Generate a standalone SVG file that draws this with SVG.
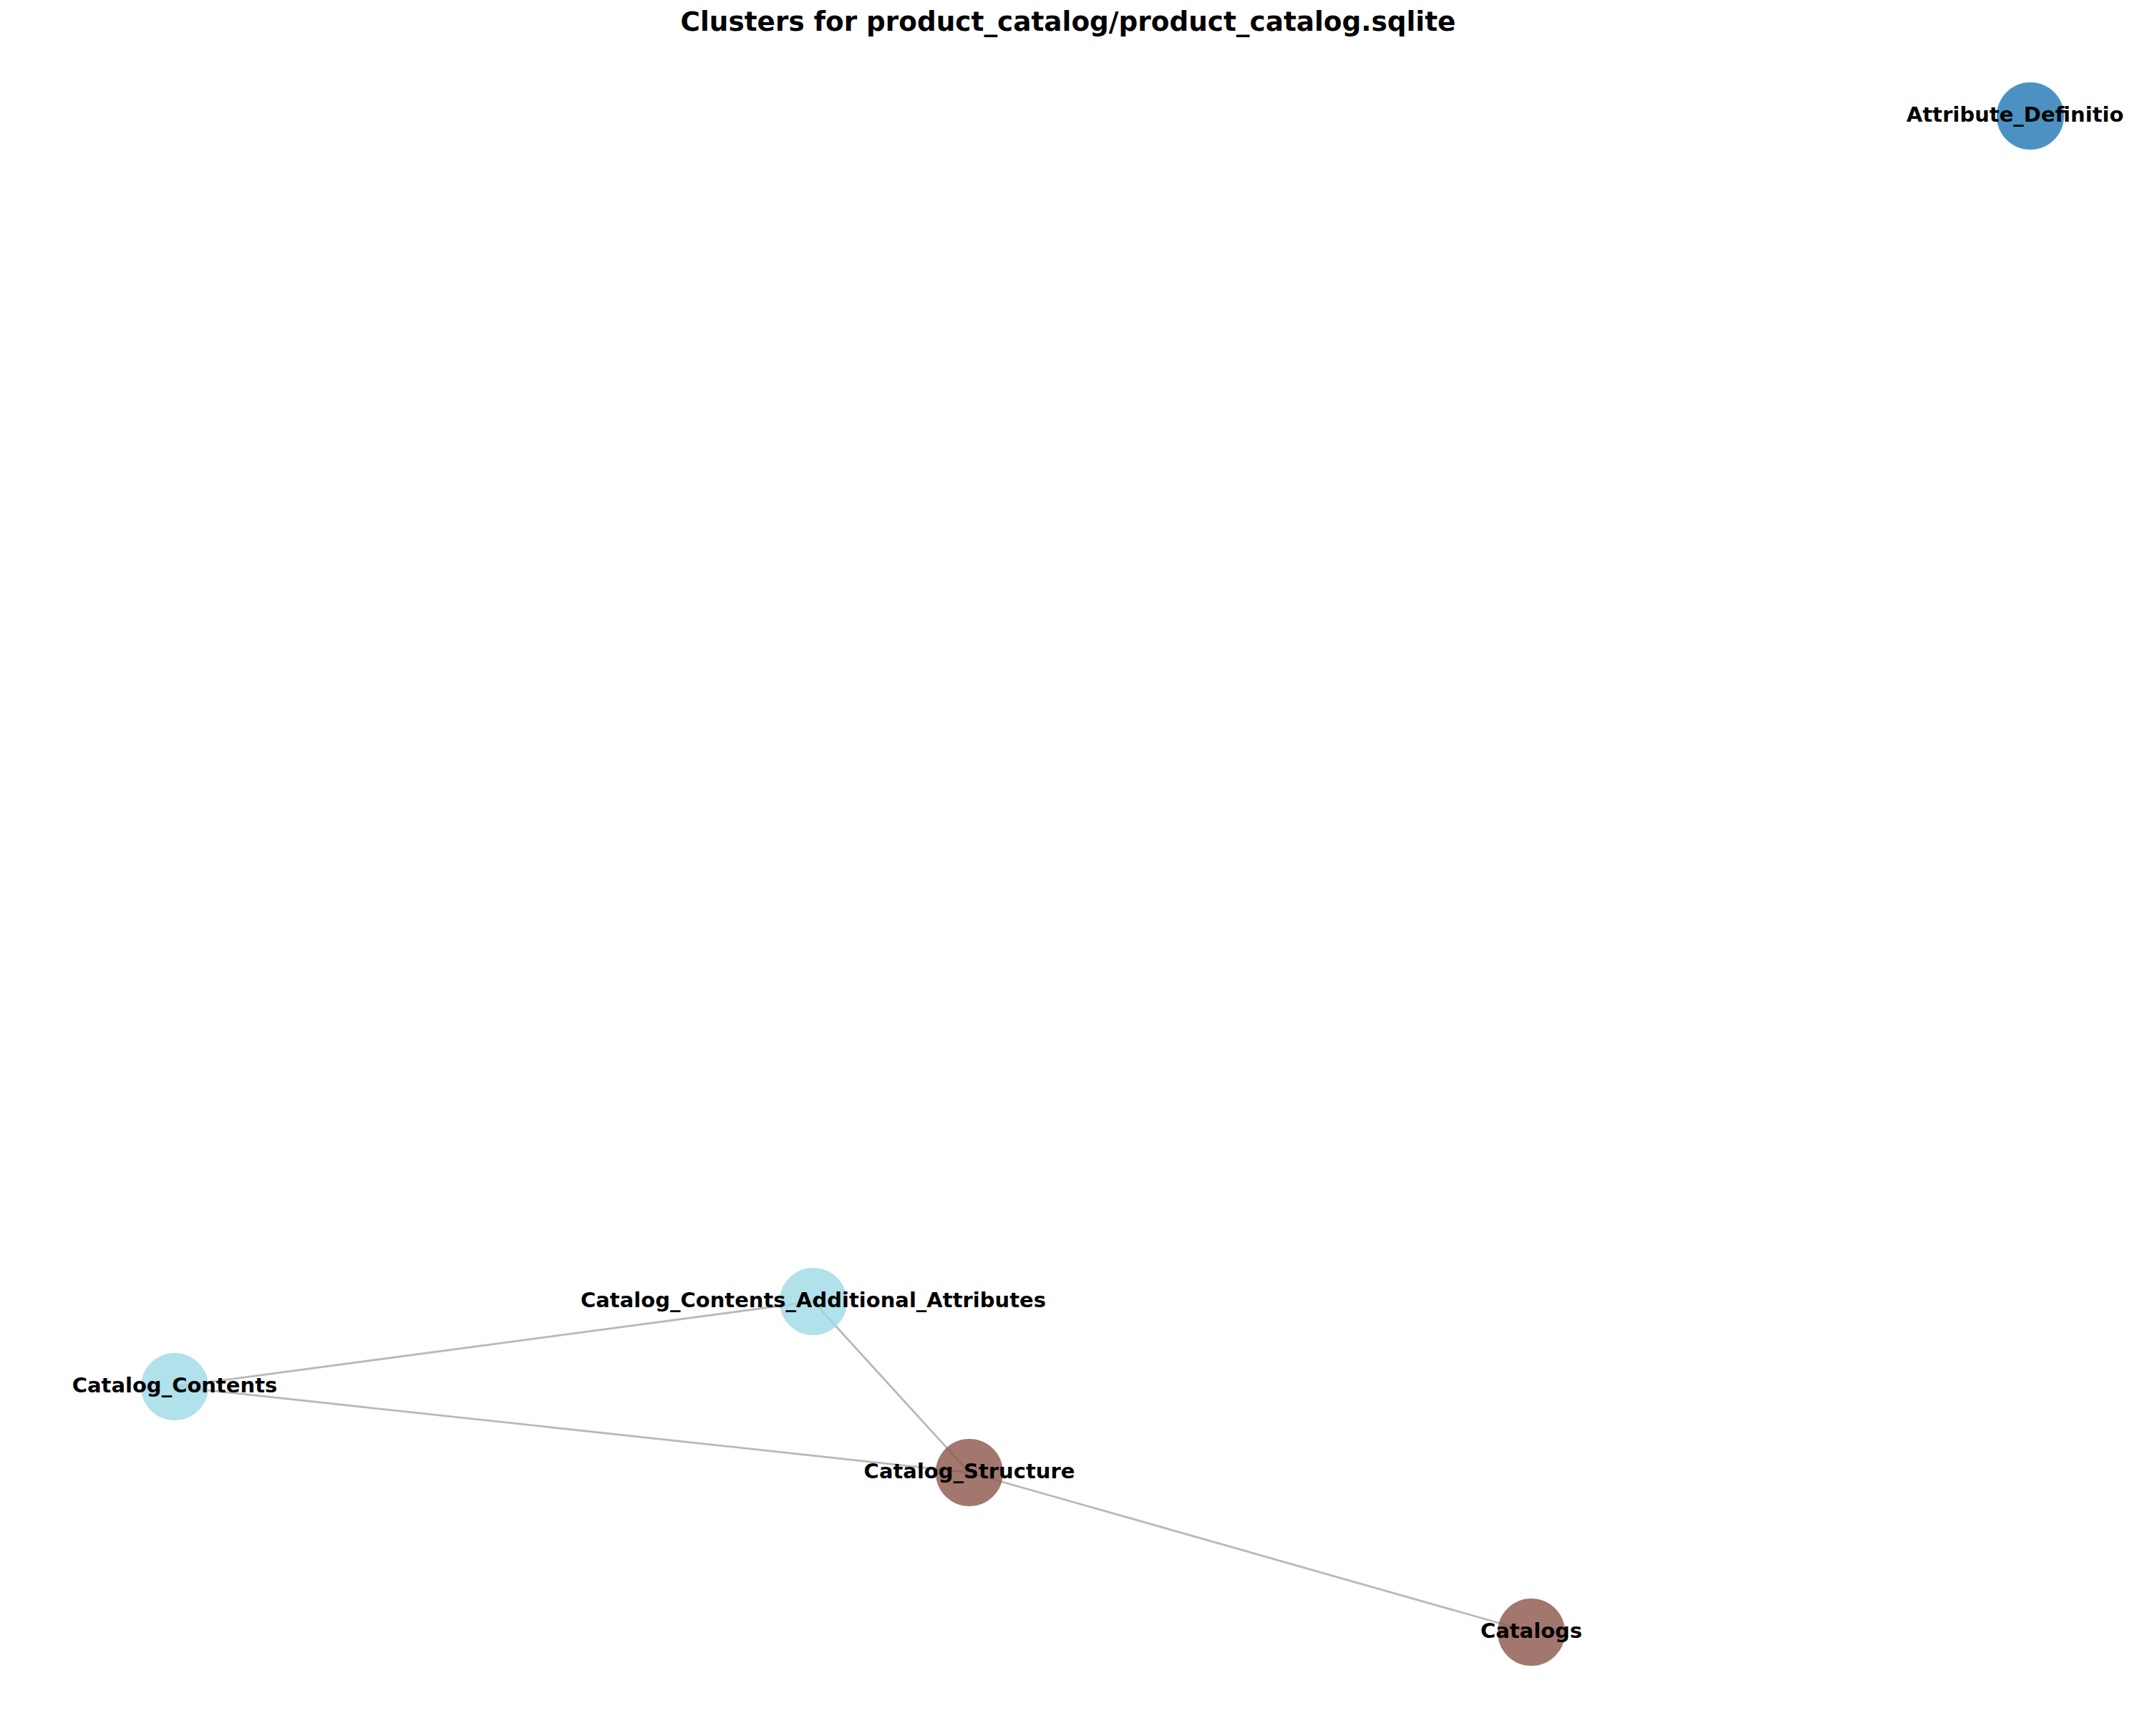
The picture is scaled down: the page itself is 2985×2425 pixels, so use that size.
<svg xmlns="http://www.w3.org/2000/svg" width="2985" height="2425" viewBox="0 0 2985 2425">
<style>
.title{font-family:"DejaVu Sans","Liberation Sans",sans-serif;font-weight:bold;font-size:37.4px;fill:#000}
.lbl{font-family:"DejaVu Sans","Liberation Sans",sans-serif;font-weight:bold;font-size:29px;fill:#000;text-anchor:middle}
.edge{stroke:#808080;stroke-opacity:0.55;stroke-width:2.8;fill:none}
.n{stroke-width:2;opacity:0.8}
.blue{fill:#1f77b4;stroke:#1f77b4}
.cyan{fill:#9edae5;stroke:#9edae5}
.brown{fill:#8c564b;stroke:#8c564b}
</style>
<rect width="2985" height="2425" fill="#ffffff"/>
<text class="title" x="1492" y="43" text-anchor="middle">Clusters for product_catalog/product_catalog.sqlite</text>
<g id="edges">
<line class="edge" x1="244" y1="1937" x2="1136" y2="1818"/>
<line class="edge" x1="244" y1="1937" x2="1354" y2="2057"/>
<line class="edge" x1="1136" y1="1818" x2="1354" y2="2057"/>
<line class="edge" x1="1354" y1="2057" x2="2139" y2="2280"/>
</g>
<g id="node-attribute-definitions">
<circle class="n blue" cx="2836" cy="162" r="46"/>
<text class="lbl" x="2663" y="170" style="text-anchor:start">Attribute_Definitio</text>
</g>
<g id="node-catalog-contents-additional-attributes">
<circle class="n cyan" cx="1136" cy="1818" r="46"/>
<text class="lbl" x="1136" y="1826">Catalog_Contents_Additional_Attributes</text>
</g>
<g id="node-catalog-contents">
<circle class="n cyan" cx="244" cy="1937" r="46"/>
<text class="lbl" x="244" y="1945">Catalog_Contents</text>
</g>
<g id="node-catalog-structure">
<circle class="n brown" cx="1354" cy="2057" r="46"/>
<text class="lbl" x="1354" y="2065">Catalog_Structure</text>
</g>
<g id="node-catalogs">
<circle class="n brown" cx="2139" cy="2280" r="46"/>
<text class="lbl" x="2139" y="2288">Catalogs</text>
</g>
</svg>
